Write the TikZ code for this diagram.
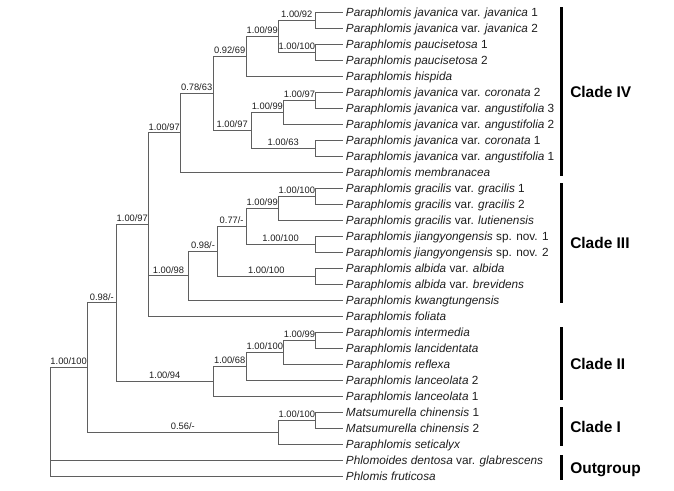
\documentclass[tikz,border=0pt]{standalone}
\usepackage{fontspec}
\setmainfont{Liberation Sans}
\definecolor{branch}{RGB}{95,95,95}
\definecolor{ink}{RGB}{30,30,30}
\begin{document}
\begin{tikzpicture}[x=0.75pt,y=-0.75pt,
  tip/.style={anchor=west,inner xsep=2pt,inner ysep=0pt,text height=8pt,text depth=1.4pt,
    font=\fontsize{8.85}{10}\selectfont,text=ink},
  blabel/.style={anchor=south,inner xsep=0pt,inner ysep=1.6pt,text depth=0pt,
    font=\fontsize{7}{8}\selectfont,text=ink,pos=0.75},
  edge/.style={draw=branch,line width=0.75pt},
  cladebar/.style={draw=black,line width=2.4pt},
  cladelabel/.style={anchor=west,inner sep=0pt,text height=8.3pt,text depth=0pt,
    font=\bfseries\fontsize{11.6}{13}\selectfont,text=black}]
\useasboundingbox (0,0) rectangle (674,491);

% tips
\node[tip] (t1)  at (343,12.3)  {\textit{Paraphlomis javanica} var. \textit{javanica} 1};
\node[tip] (t2)  at (343,28.3)  {\textit{Paraphlomis javanica} var. \textit{javanica} 2};
\node[tip] (t3)  at (343,44.3)  {\textit{Paraphlomis paucisetosa} 1};
\node[tip] (t4)  at (343,60.3)  {\textit{Paraphlomis paucisetosa} 2};
\node[tip] (t5)  at (343,76.3)  {\textit{Paraphlomis hispida}};
\node[tip] (t6)  at (343,92.3)  {\textit{Paraphlomis javanica} var. \textit{coronata} 2};
\node[tip] (t7)  at (343,108.3) {\textit{Paraphlomis javanica} var. \textit{angustifolia} 3};
\node[tip] (t8)  at (343,124.3) {\textit{Paraphlomis javanica} var. \textit{angustifolia} 2};
\node[tip] (t9)  at (343,140.3) {\textit{Paraphlomis javanica} var. \textit{coronata} 1};
\node[tip] (t10) at (343,156.3) {\textit{Paraphlomis javanica} var. \textit{angustifolia} 1};
\node[tip] (t11) at (343,172.3) {\textit{Paraphlomis membranacea}};
\node[tip] (t12) at (343,188.3) {\textit{Paraphlomis gracilis} var. \textit{gracilis} 1};
\node[tip] (t13) at (343,204.3) {\textit{Paraphlomis gracilis} var. \textit{gracilis} 2};
\node[tip] (t14) at (343,220.3) {\textit{Paraphlomis gracilis} var. \textit{lutienensis}};
\node[tip] (t15) at (343,236.3) {\textit{Paraphlomis jiangyongensis} sp. nov. 1};
\node[tip] (t16) at (343,252.3) {\textit{Paraphlomis jiangyongensis} sp. nov. 2};
\node[tip] (t17) at (343,268.3) {\textit{Paraphlomis albida} var. \textit{albida}};
\node[tip] (t18) at (343,284.3) {\textit{Paraphlomis albida} var. \textit{brevidens}};
\node[tip] (t19) at (343,300.3) {\textit{Paraphlomis kwangtungensis}};
\node[tip] (t20) at (343,316.3) {\textit{Paraphlomis foliata}};
\node[tip] (t21) at (343,332.3) {\textit{Paraphlomis intermedia}};
\node[tip] (t22) at (343,348.3) {\textit{Paraphlomis lancidentata}};
\node[tip] (t23) at (343,364.3) {\textit{Paraphlomis reflexa}};
\node[tip] (t24) at (343,380.3) {\textit{Paraphlomis lanceolata} 2};
\node[tip] (t25) at (343,396.3) {\textit{Paraphlomis lanceolata} 1};
\node[tip] (t26) at (343,412.3) {\textit{Matsumurella chinensis} 1};
\node[tip] (t27) at (343,428.3) {\textit{Matsumurella chinensis} 2};
\node[tip] (t28) at (343,444.3) {\textit{Paraphlomis seticalyx}};
\node[tip] (t29) at (343,460.3) {\textit{Phlomoides dentosa} var. \textit{glabrescens}};
\node[tip] (t30) at (343,476.3) {\textit{Phlomis fruticosa}};

% internal nodes
\coordinate (nA) at (315.3,20.3);
\coordinate (nB) at (315.3,52.3);
\coordinate (nC) at (278.3,36.3);
\coordinate (nD) at (246,56.3);
\coordinate (nE) at (315.3,100.3);
\coordinate (nF) at (283.7,112.3);
\coordinate (nG) at (315.3,148.3);
\coordinate (nH) at (251,130.3);
\coordinate (nI) at (213.3,93.3);
\coordinate (nJ) at (180,132.8);
\coordinate (nK) at (315.3,196.3);
\coordinate (nL) at (278.3,208.3);
\coordinate (nM) at (315.3,244.3);
\coordinate (nN) at (246,226.3);
\coordinate (nO) at (315.3,276.3);
\coordinate (nP) at (217.3,251.3);
\coordinate (nQ) at (188.7,275.8);
\coordinate (nR) at (148.3,224.55);
\coordinate (nS) at (315.3,340.3);
\coordinate (nT) at (283.7,352.3);
\coordinate (nU) at (246,366.3);
\coordinate (nV) at (213.3,381.3);
\coordinate (nW) at (116.3,302.9);
\coordinate (nX) at (315.3,420.3);
\coordinate (nY) at (278.3,432.3);
\coordinate (nZ) at (87.3,367.6);
\coordinate (root) at (50,422);

% Clade IV
\draw[edge] (nA) |- (t1.west);
\draw[edge] (nA) |- (t2.west);
\draw[edge] (nB) |- (t3.west);
\draw[edge] (nB) |- (t4.west);
\draw[edge] (nC) |- node[blabel] {1.00/92} (nA);
\draw[edge] (nC) |- node[blabel] {1.00/100} (nB);
\draw[edge] (nD) |- node[blabel] {1.00/99} (nC);
\draw[edge] (nD) |- (t5.west);
\draw[edge] (nE) |- (t6.west);
\draw[edge] (nE) |- (t7.west);
\draw[edge] (nF) |- node[blabel] {1.00/97} (nE);
\draw[edge] (nF) |- (t8.west);
\draw[edge] (nG) |- (t9.west);
\draw[edge] (nG) |- (t10.west);
\draw[edge] (nH) |- node[blabel] {1.00/99} (nF);
\draw[edge] (nH) |- node[blabel] {1.00/63} (nG);
\draw[edge] (nI) |- node[blabel] {0.92/69} (nD);
\draw[edge] (nI) |- node[blabel] {1.00/97} (nH);
\draw[edge] (nJ) |- node[blabel] {0.78/63} (nI);
\draw[edge] (nJ) |- (t11.west);
% Clade III
\draw[edge] (nK) |- (t12.west);
\draw[edge] (nK) |- (t13.west);
\draw[edge] (nL) |- node[blabel] {1.00/100} (nK);
\draw[edge] (nL) |- (t14.west);
\draw[edge] (nM) |- (t15.west);
\draw[edge] (nM) |- (t16.west);
\draw[edge] (nN) |- node[blabel] {1.00/99} (nL);
\draw[edge] (nN) |- node[blabel] {1.00/100} (nM);
\draw[edge] (nO) |- (t17.west);
\draw[edge] (nO) |- (t18.west);
\draw[edge] (nP) |- node[blabel] {0.77/-} (nN);
\draw[edge] (nP) |- node[blabel] {1.00/100} (nO);
\draw[edge] (nQ) |- node[blabel] {0.98/-} (nP);
\draw[edge] (nQ) |- (t19.west);
\draw[edge] (nR) |- node[blabel] {1.00/97} (nJ);
\draw[edge] (nR) |- node[blabel] {1.00/98} (nQ);
\draw[edge] (nR) |- (t20.west);
% Clade II
\draw[edge] (nS) |- (t21.west);
\draw[edge] (nS) |- (t22.west);
\draw[edge] (nT) |- node[blabel] {1.00/99} (nS);
\draw[edge] (nT) |- (t23.west);
\draw[edge] (nU) |- node[blabel] {1.00/100} (nT);
\draw[edge] (nU) |- (t24.west);
\draw[edge] (nV) |- node[blabel] {1.00/68} (nU);
\draw[edge] (nV) |- (t25.west);
\draw[edge] (nW) |- node[blabel] {1.00/97} (nR);
\draw[edge] (nW) |- node[blabel] {1.00/94} (nV);
% Clade I
\draw[edge] (nX) |- (t26.west);
\draw[edge] (nX) |- (t27.west);
\draw[edge] (nY) |- node[blabel] {1.00/100} (nX);
\draw[edge] (nY) |- (t28.west);
\draw[edge] (nZ) |- node[blabel] {0.98/-} (nW);
\draw[edge] (nZ) |- node[blabel] {0.56/-} (nY);
% root
\draw[edge] (root) |- node[blabel] {1.00/100} (nZ);
\draw[edge] (root) |- (t29.west);
\draw[edge] (root) |- (t30.west);

% clade bars
\coordinate (b4a) at (561.7,7.3);   \coordinate (b4b) at (561.7,175.7);
\coordinate (b3a) at (561.7,183.3); \coordinate (b3b) at (561.7,303.3);
\coordinate (b2a) at (561.7,327.3); \coordinate (b2b) at (561.7,400);
\coordinate (b1a) at (561.7,407.3); \coordinate (b1b) at (561.7,446);
\coordinate (b0a) at (561.7,455);   \coordinate (b0b) at (561.7,480);
\draw[cladebar] (b4a) -- (b4b);
\draw[cladebar] (b3a) -- (b3b);
\draw[cladebar] (b2a) -- (b2b);
\draw[cladebar] (b1a) -- (b1b);
\draw[cladebar] (b0a) -- (b0b);
\node[cladelabel] (c4) at (570,91.5)  {Clade IV};
\node[cladelabel] (c3) at (570,243.3) {Clade III};
\node[cladelabel] (c2) at (570,363.7) {Clade II};
\node[cladelabel] (c1) at (570,426.7) {Clade I};
\node[cladelabel] (c0) at (570,467.5) {Outgroup};
\end{tikzpicture}
\end{document}
